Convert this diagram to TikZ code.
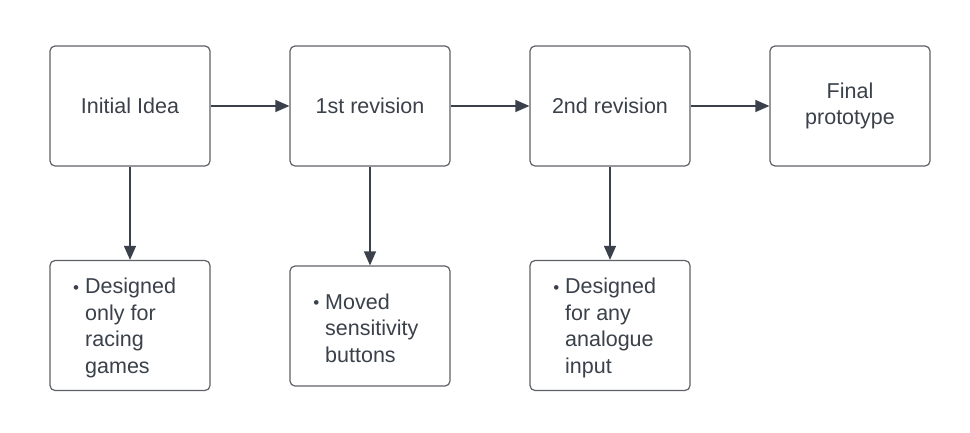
\documentclass[tikz,border=0pt]{standalone}
\usepackage{fontspec}
\setmainfont{Liberation Sans}
\usetikzlibrary{arrows.meta}
\definecolor{ink}{HTML}{3A414A}
\definecolor{edge}{HTML}{5E6166}
\tikzset{
  card/.style={draw=edge, line width=1.2pt, rounded corners=5pt, minimum width=160pt, inner sep=0pt, fill=white},
  topcard/.style={card, minimum height=120pt, align=center, text=ink, font=\fontsize{21.5}{26.5}\selectfont},
  botcard/.style={card, minimum height=130pt},
  bullets/.style={anchor=west, inner sep=0pt, text=ink, align=left, font=\fontsize{21.5}{26.5}\selectfont},
  flow/.style={draw=ink, line width=1.2pt, -{Triangle[length=14pt,width=12pt]}}
}
\newcommand{\bul}[1]{\makebox[0pt][r]{\raisebox{0.5pt}{\fontsize{17}{17}\selectfont•}\hspace{6pt}}#1}
\begin{document}
\begin{tikzpicture}[x=1pt,y=-1pt]
\useasboundingbox (0,0) rectangle (970,432);
\node[topcard] (a) at (130,106) {Initial Idea};
\node[topcard] (b) at (370,106) {1st revision};
\node[topcard] (c) at (610,106) {2nd revision};
\node[topcard] (d) at (850,106) {Final\\[-1pt]prototype};
\node[botcard] (a2) at (130,325.5) {};
\node[card, minimum height=120pt] (b2) at (370,326) {};
\node[botcard] (c2) at (610,325.5) {};
\node[bullets] (ta) at (85,328) {\bul{Designed}\\only for\\racing\\games};
\node[bullets] (tb) at (325,328) {\bul{Moved}\\sensitivity\\buttons};
\node[bullets] (tc) at (565,328) {\bul{Designed}\\for any\\analogue\\input};
\draw[flow] (a) -- (b);
\draw[flow] (b) -- (c);
\draw[flow] (c) -- (d);
\draw[flow] (a) -- (a2);
\draw[flow] (b) -- (b2);
\draw[flow] (c) -- (c2);
\end{tikzpicture}
\end{document}
